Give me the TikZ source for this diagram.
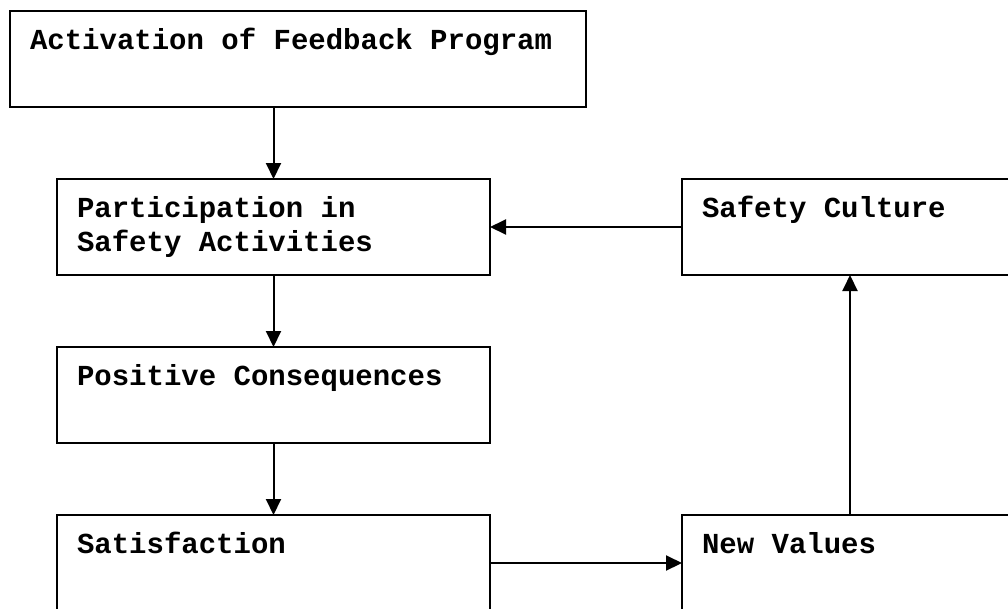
\documentclass[tikz,border=0pt]{standalone}
\usepackage{fontspec}
\setmonofont{Liberation Mono}
\usepackage{tikz}
\usetikzlibrary{arrows.meta,positioning}

\begin{document}
\begin{tikzpicture}[box/.style={rectangle, draw, line width=2pt, outer sep=0pt,
		inner xsep=20pt, inner ysep=0pt, minimum height=96pt, align=left,
		text height=38pt, text depth=58pt,
		font=\ttfamily\bfseries\fontsize{29}{34}\selectfont,
		execute at begin node={\spaceskip=0.6em\relax}},
	flow/.style={-{Triangle[length=16pt, width=15pt]}, line width=2pt}]
		\useasboundingbox (0,0) rectangle (1008pt,-608pt);
		\clip (0,0) rectangle (1008pt,-608pt);
		\node [box, minimum width=576pt, text width=536pt, anchor=north west] (act) at (10pt,-11pt) {Activation of Feedback Program};
		\node [box, minimum width=433pt, text width=393pt, below=72pt of act.south west, anchor=north west, xshift=47pt] (part) {Participation in\\Safety Activities};
		\node [box, minimum width=433pt, text width=393pt, below=72pt of part] (pos) {Positive Consequences};
		\node [box, minimum width=433pt, text width=393pt, below=72pt of pos] (sat) {Satisfaction};
		\node [box, minimum width=336pt, text width=296pt, right=192pt of part] (cult) {Safety Culture};
		\node [box, minimum width=336pt, text width=296pt, right=192pt of sat] (vals) {New Values};
		
		\draw [flow] (act.south -| part.north) -- (part.north);
		\draw [flow] (part) -- (pos);
		\draw [flow] (pos) -- (sat);
		\draw [flow] (sat) -- (vals);
		\draw [flow] (vals) -- (cult);
		\draw [flow] (cult) -- (part);
	\end{tikzpicture}
\end{document}
